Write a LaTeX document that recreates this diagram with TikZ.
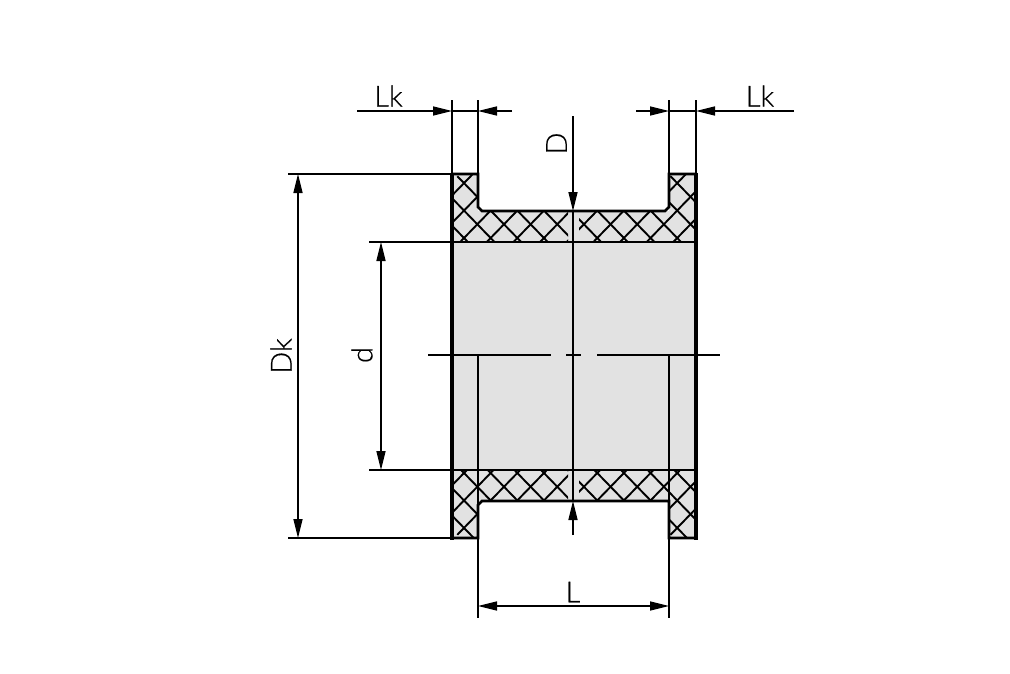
\documentclass[tikz,border=0pt]{standalone}
\usepackage{fontspec}
\setmainfont{Lato}[UprightFont=* Light,FakeBold=0.4]
\usetikzlibrary{arrows.meta}
\definecolor{fillgray}{HTML}{E2E2E2}
\tikzset{
  thin line/.style={line width=1.6pt,black},
  outline/.style={line width=2.8pt,black,line join=miter},
  wall/.style={line width=3.4pt,black},
  hatchline/.style={line width=1.9pt,black},
  dim/.style={thin line,{Triangle[length=19pt,width=9pt]}-{Triangle[length=19pt,width=9pt]}},
  tipA/.style={thin line,-{Triangle[length=19pt,width=9pt]}},
  lab/.style={font=\fontsize{29}{29}\selectfont,inner sep=0pt,text=black}
}
% lattice of crossed lines, anchored on a crossing at (464,#1)
\newcommand{\hatchset}[1]{%
  \foreach \k in {-14,...,14}{
    \draw[hatchline] ({464+\k*26.65-60},{#1+60*1.03}) -- ({464+\k*26.65+320},{#1-320*1.03});
    \draw[hatchline] ({464+\k*26.65-60},{#1-60*1.03}) -- ({464+\k*26.65+320},{#1+320*1.03});
  }}
\begin{document}
\begin{tikzpicture}[x=1pt,y=-1pt]
\useasboundingbox (0,0) rectangle (1010,673);
% body
\fill[fillgray] (452,174) -- (478,174) -- (478,211) -- (669,211) -- (669,174) -- (696,174) -- (696,538) -- (669,538) -- (669,501) -- (478,501) -- (478,538) -- (452,538) -- cycle;
% hatch top
\begin{scope}
\clip (452,174) -- (478,174) -- (478,211) -- (568,211) -- (568,242) -- (452,242) -- cycle;
\hatchset{238}
\end{scope}
\begin{scope}
\clip (579,211) -- (669,211) -- (669,174) -- (696,174) -- (696,242) -- (579,242) -- cycle;
\hatchset{238}
\end{scope}
% hatch bottom
\begin{scope}
\clip (452,538) -- (478,538) -- (478,501) -- (568,501) -- (568,470) -- (452,470) -- cycle;
\hatchset{473}
\end{scope}
\begin{scope}
\clip (579,501) -- (669,501) -- (669,538) -- (696,538) -- (696,470) -- (579,470) -- cycle;
\hatchset{473}
\end{scope}
% outline
\draw[outline] (452,174) -- (478,174) -- (478,207) -- (482,211) -- (665,211) -- (669,207) -- (669,174) -- (696,174);
\draw[outline] (452,538) -- (478,538) -- (478,505) -- (482,501) -- (669,501) -- (669,538) -- (696,538);
\draw[wall] (452,172.5) -- (452,539.5);
\draw[wall] (696,172.5) -- (696,539.5);
\draw[outline] (452,242) -- (696,242);
\draw[outline] (452,470) -- (696,470);
% extension lines
\draw[thin line] (452,100) -- (452,174);
\draw[thin line] (478,100) -- (478,174);
\draw[thin line] (669,100) -- (669,174);
\draw[thin line] (696,100) -- (696,174);
\draw[thin line] (478,355) -- (478,618);
\draw[thin line] (669,355) -- (669,618);
\draw[thin line] (288,174) -- (452,174);
\draw[thin line] (288,538) -- (452,538);
\draw[thin line] (369,242) -- (452,242);
\draw[thin line] (369,470) -- (452,470);
% centre line
\draw[thin line] (428,355) -- (551,355);
\draw[thin line] (566,355) -- (581,355);
\draw[thin line] (597,355) -- (720,355);
% dimensions
\coordinate (lkA) at (357,111); \coordinate (lkB) at (452,111);
\coordinate (lkC) at (512,111); \coordinate (lkD) at (478,111);
\coordinate (lkE) at (636,111); \coordinate (lkF) at (669,111);
\coordinate (lkG) at (794,111); \coordinate (lkH) at (696,111);
\draw[tipA] (lkA) -- (lkB);
\draw[tipA] (lkC) -- (lkD);
\draw[thin line] (lkB) -- (lkD);
\draw[tipA] (lkE) -- (lkF);
\draw[tipA] (lkG) -- (lkH);
\draw[thin line] (lkF) -- (lkH);
\coordinate (dA) at (573,116); \coordinate (dB) at (573,211);
\coordinate (dC) at (573,535); \coordinate (dD) at (573,501);
\draw[tipA] (dA) -- (dB);
\draw[tipA] (dC) -- (dD);
\draw[thin line] (dB) -- (dD);
\coordinate (dkA) at (298,174); \coordinate (dkB) at (298,538);
\draw[dim] (dkA) -- (dkB);
\coordinate (sdA) at (381,242); \coordinate (sdB) at (381,470);
\draw[dim] (sdA) -- (sdB);
\coordinate (lA) at (478,606); \coordinate (lB) at (669,606);
\draw[dim] (lA) -- (lB);
% labels
\node[lab] (tLk1) at (388.5,96) {Lk};
\node[lab] (tLk2) at (760,96) {Lk};
\node[lab,rotate=90] (tD) at (556.5,143.5) {D};
\node[lab,rotate=90] (tDk) at (281,356) {Dk};
\node[lab,rotate=90] (td) at (362,355) {d};
\node[lab] (tL) at (573,592) {L};
\end{tikzpicture}
\end{document}
